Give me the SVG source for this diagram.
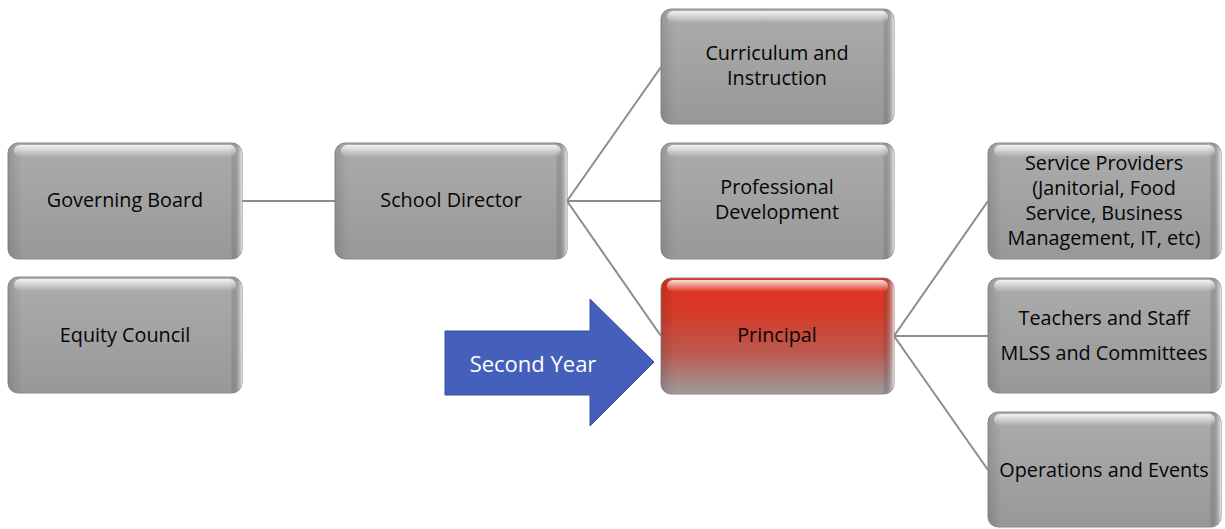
<svg xmlns="http://www.w3.org/2000/svg" width="1225" height="529" viewBox="0 0 1225 529">
  <defs>
    <linearGradient id="grayFill" x1="0" y1="0" x2="0" y2="1">
      <stop offset="0" stop-color="#acacac"/>
      <stop offset="0.5" stop-color="#a2a2a2"/>
      <stop offset="1" stop-color="#989898"/>
    </linearGradient>
    <linearGradient id="redFill" x1="0" y1="0" x2="0" y2="1">
      <stop offset="0" stop-color="#e2321e"/>
      <stop offset="0.3" stop-color="#d63a28"/>
      <stop offset="0.65" stop-color="#bb5a50"/>
      <stop offset="1" stop-color="#9c9c9c"/>
    </linearGradient>
    <linearGradient id="topShine" x1="0" y1="0" x2="0" y2="1">
      <stop offset="0" stop-color="#ffffff" stop-opacity="0.85"/>
      <stop offset="1" stop-color="#ffffff" stop-opacity="0"/>
    </linearGradient>
    <linearGradient id="sideShade" x1="0" y1="0" x2="1" y2="0">
      <stop offset="0" stop-color="#000000" stop-opacity="0.12"/>
      <stop offset="0.06" stop-color="#000000" stop-opacity="0"/>
      <stop offset="0.95" stop-color="#000000" stop-opacity="0"/>
      <stop offset="1" stop-color="#ffffff" stop-opacity="0.7"/>
    </linearGradient>
  </defs>
  <style>
    .box { stroke: #8a8a8a; stroke-width: 1; }
    .gray { fill: url(#grayFill); }
    .red { fill: url(#redFill); }
    .shine { fill: url(#topShine); }
    .side { fill: url(#sideShade); }
    .lbl { font-family: "Open Sans", "Liberation Sans", sans-serif; font-size: 19.8px; fill: #050505; text-anchor: middle; }
    .conn { stroke: #8c8c8c; stroke-width: 2; fill: none; }
    .arrowLbl { font-family: "Open Sans", "Liberation Sans", sans-serif; font-size: 22px; fill: #ffffff; text-anchor: middle; }
  </style>

  <rect width="1225" height="529" fill="#ffffff"/>

  <!-- connectors -->
  <g id="connectors">
    <line class="conn" x1="242" y1="201" x2="335" y2="201"/>
    <line class="conn" x1="567" y1="201" x2="661" y2="67"/>
    <line class="conn" x1="567" y1="201" x2="661" y2="201"/>
    <line class="conn" x1="567" y1="201" x2="661" y2="336"/>
    <line class="conn" x1="894" y1="336" x2="988" y2="201"/>
    <line class="conn" x1="894" y1="336" x2="988" y2="336"/>
    <line class="conn" x1="894" y1="336" x2="988" y2="470"/>
  </g>

  <!-- Second Year arrow -->
  <g id="second-year">
    <polygon points="445,331 590,331 590,299 654,362 590,426 590,395 445,395" fill="#4560bb" stroke="#3a4f9a" stroke-width="1"/>
    <text class="arrowLbl" x="533" y="372">Second Year</text>
  </g>

  <g id="governing-board">
    <rect class="box gray" x="8" y="143" width="234" height="116" rx="10"/>
    <rect class="side" x="8" y="143" width="234" height="116" rx="10"/>
    <rect class="shine" x="14" y="145" width="222" height="12" rx="6"/>
    <text class="lbl" x="125" y="207">Governing Board</text>
  </g>

  <g id="equity-council">
    <rect class="box gray" x="8" y="277" width="234" height="116" rx="10"/>
    <rect class="side" x="8" y="277" width="234" height="116" rx="10"/>
    <rect class="shine" x="14" y="279" width="222" height="12" rx="6"/>
    <text class="lbl" x="125" y="342">Equity Council</text>
  </g>

  <g id="school-director">
    <rect class="box gray" x="335" y="143" width="232" height="116" rx="10"/>
    <rect class="side" x="335" y="143" width="232" height="116" rx="10"/>
    <rect class="shine" x="341" y="145" width="220" height="12" rx="6"/>
    <text class="lbl" x="451" y="207">School Director</text>
  </g>

  <g id="curriculum">
    <rect class="box gray" x="661" y="9" width="233" height="115" rx="10"/>
    <rect class="side" x="661" y="9" width="233" height="115" rx="10"/>
    <rect class="shine" x="667" y="11" width="221" height="12" rx="6"/>
    <text class="lbl" x="777" y="60">Curriculum and</text>
    <text class="lbl" x="777" y="85">Instruction</text>
  </g>

  <g id="professional-development">
    <rect class="box gray" x="661" y="143" width="233" height="116" rx="10"/>
    <rect class="side" x="661" y="143" width="233" height="116" rx="10"/>
    <rect class="shine" x="667" y="145" width="221" height="12" rx="6"/>
    <text class="lbl" x="777" y="194">Professional</text>
    <text class="lbl" x="777" y="219">Development</text>
  </g>

  <g id="principal">
    <rect class="box red" x="661" y="278" width="233" height="116" rx="10"/>
    <rect class="side" x="661" y="278" width="233" height="116" rx="10"/>
    <rect class="shine" x="667" y="280" width="221" height="12" rx="6"/>
    <text class="lbl" x="777" y="342">Principal</text>
  </g>

  <g id="service-providers">
    <rect class="box gray" x="988" y="143" width="233" height="116" rx="10"/>
    <rect class="side" x="988" y="143" width="233" height="116" rx="10"/>
    <rect class="shine" x="994" y="145" width="221" height="12" rx="6"/>
    <text class="lbl" x="1104" y="170">Service Providers</text>
    <text class="lbl" x="1104" y="195">(Janitorial, Food</text>
    <text class="lbl" x="1104" y="220">Service, Business</text>
    <text class="lbl" x="1104" y="245">Management, IT, etc)</text>
  </g>

  <g id="teachers-staff">
    <rect class="box gray" x="988" y="278" width="233" height="115" rx="10"/>
    <rect class="side" x="988" y="278" width="233" height="115" rx="10"/>
    <rect class="shine" x="994" y="280" width="221" height="12" rx="6"/>
    <text class="lbl" x="1104" y="325">Teachers and Staff</text>
    <text class="lbl" x="1104" y="360">MLSS and Committees</text>
  </g>

  <g id="operations-events">
    <rect class="box gray" x="988" y="412" width="233" height="115" rx="10"/>
    <rect class="side" x="988" y="412" width="233" height="115" rx="10"/>
    <rect class="shine" x="994" y="414" width="221" height="12" rx="6"/>
    <text class="lbl" x="1104" y="477">Operations and Events</text>
  </g>
</svg>
